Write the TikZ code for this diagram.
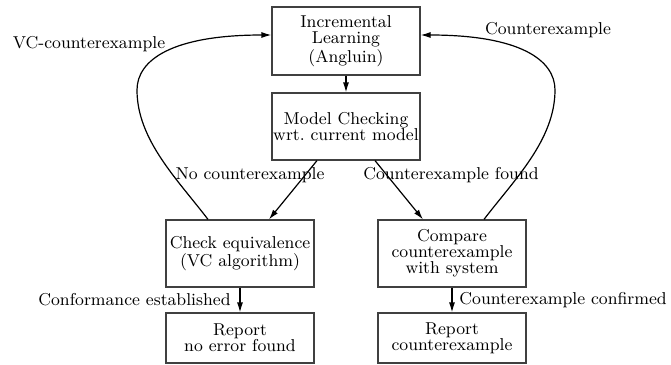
\documentclass[tikz,border=0pt]{standalone}
\usepackage{tikz}
\usetikzlibrary{arrows.meta}

\tikzset{
    stepbox/.style={draw=black!75, line width=0.6pt, minimum width=74pt, align=center, inner sep=0pt},
    flow/.style={semithick, -{Latex[length=5pt, width=3pt]}},
    lbl/.style={inner sep=0pt},
}

\begin{document}
\begin{tikzpicture}[x=0.5pt, y=-0.5pt, font=\fontsize{8.6}{8}\selectfont]
    \useasboundingbox (0, 0) rectangle (671, 365);
    \node[stepbox, minimum height=34pt] (learn) at (346, 41) {Incremental\\Learning\\(Angluin)};
    \node[stepbox, minimum height=33.5pt] (mc) at (346, 126.5) {Model Checking\\wrt.\ current model};
    \node[stepbox, minimum height=33.5pt] (equiv) at (240, 253.5) {Check equivalence\\(VC algorithm)};
    \node[stepbox, minimum height=33.5pt] (cmp) at (452, 253.5) {Compare\\counterexample\\with system};
    \node[stepbox, minimum height=25pt] (noerr) at (240, 338) {Report\\no error found};
    \node[stepbox, minimum height=25pt] (rep) at (452, 338) {Report\\counterexample};

    \draw[flow] (learn) -- (mc);
    \draw[flow] (mc.south -| 317, 0) -- (equiv.north -| 269, 0);
    \draw[flow] (mc.south -| 375, 0) -- (cmp.north -| 423, 0);
    \draw[flow] (equiv) -- (noerr);
    \draw[flow] (cmp) -- (rep);
    % feedback loops back into the learner
    \draw[flow] (equiv.north -| 208, 0) .. controls (178, 180) and (137, 140) .. (137, 90)
        .. controls (137, 60) and (172, 35) .. (learn.west |- 0, 35);
    \draw[flow] (cmp.north -| 484, 0) .. controls (514, 180) and (555, 140) .. (555, 90)
        .. controls (555, 60) and (520, 35) .. (learn.east |- 0, 35);

    \node[lbl] (lvc) at (89, 44) {VC-counterexample};
    \node[lbl] (lce) at (548, 30) {Counterexample};
    \node[lbl] (lno) at (250, 175) {No counterexample};
    \node[lbl] (lfound) at (451, 175) {Counterexample found};
    \node[lbl, anchor=east] (lconf) at (231, 300) {Conformance established};
    \node[lbl, anchor=west] (lconfirm) at (459, 300) {Counterexample confirmed};
\end{tikzpicture}
\end{document}
